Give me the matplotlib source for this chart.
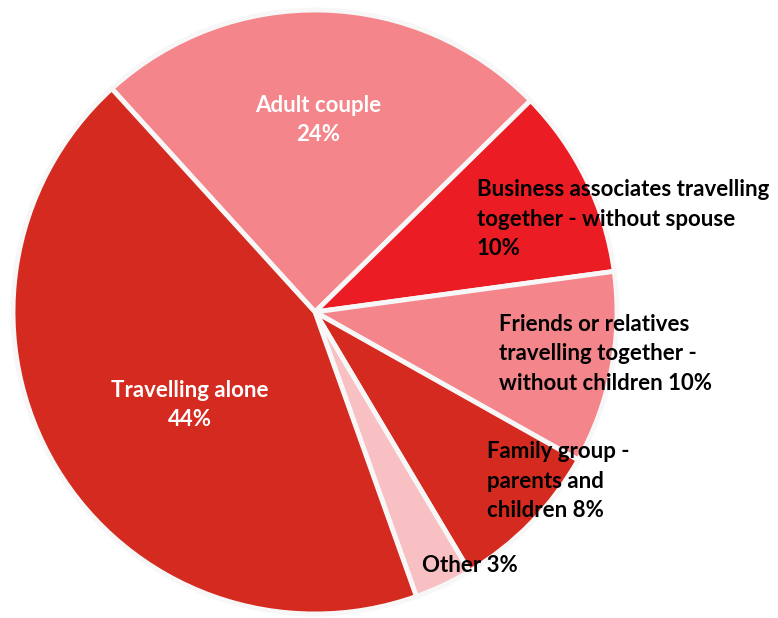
import matplotlib.pyplot as plt

# group types, clockwise from upper left
groups = ['Adult couple', 'Business associates travelling together - without spouse',
          'Friends or relatives travelling together - without children', 'Family group - parents and children',
          'Other', 'Travelling alone']
shares = [24.4, 10.2, 10.3, 8.3, 3.1, 43.7]
colors = ['#F4858A', '#EC1C24', '#F4858A', '#D42A1F', '#F8C0C3', '#D42A1F']

# label text as shown on the chart
label_text = ['Adult couple\n24%',
              'Business associates travelling\ntogether - without spouse\n10%',
              'Friends or relatives\ntravelling together -\nwithout children 10%',
              'Family group -\nparents and\nchildren 8%',
              'Other 3%',
              'Travelling alone\n44%']

W, H = 778, 618
cx, cy, R = 315, 312, 305

fig = plt.figure(figsize=(W / 100, H / 100), dpi=100)
ax = fig.add_axes([(cx - R) / W, (H - cy - R) / H, 2 * R / W, 2 * R / H])
ax.pie(shares, colors=colors, startangle=132.3, counterclock=False, radius=1,
       wedgeprops=dict(edgecolor='#F7F7F7', linewidth=3.5))
ax.set_xlim(-1.01, 1.01)
ax.set_ylim(-1.01, 1.01)
ax.set_aspect('equal')
ax.axis('off')

# label spots in pixels: (x, y, horizontal alignment, colour)
spots = [(318, 120, 'center', 'white'),
         (477, 219, 'left', 'black'),
         (499, 354, 'left', 'black'),
         (487, 481, 'left', 'black'),
         (422, 565, 'left', 'black'),
         (190, 405, 'center', 'white')]

for txt, (px, py, ha, c) in zip(label_text, spots):
    fig.text(px / W, 1 - py / H, txt, ha=ha, va='center', color=c,
             fontsize=16, fontweight='bold', family=['Lato', 'DejaVu Sans'],
             linespacing=1.5, multialignment=ha)

fig.savefig('out.png', dpi=100)
